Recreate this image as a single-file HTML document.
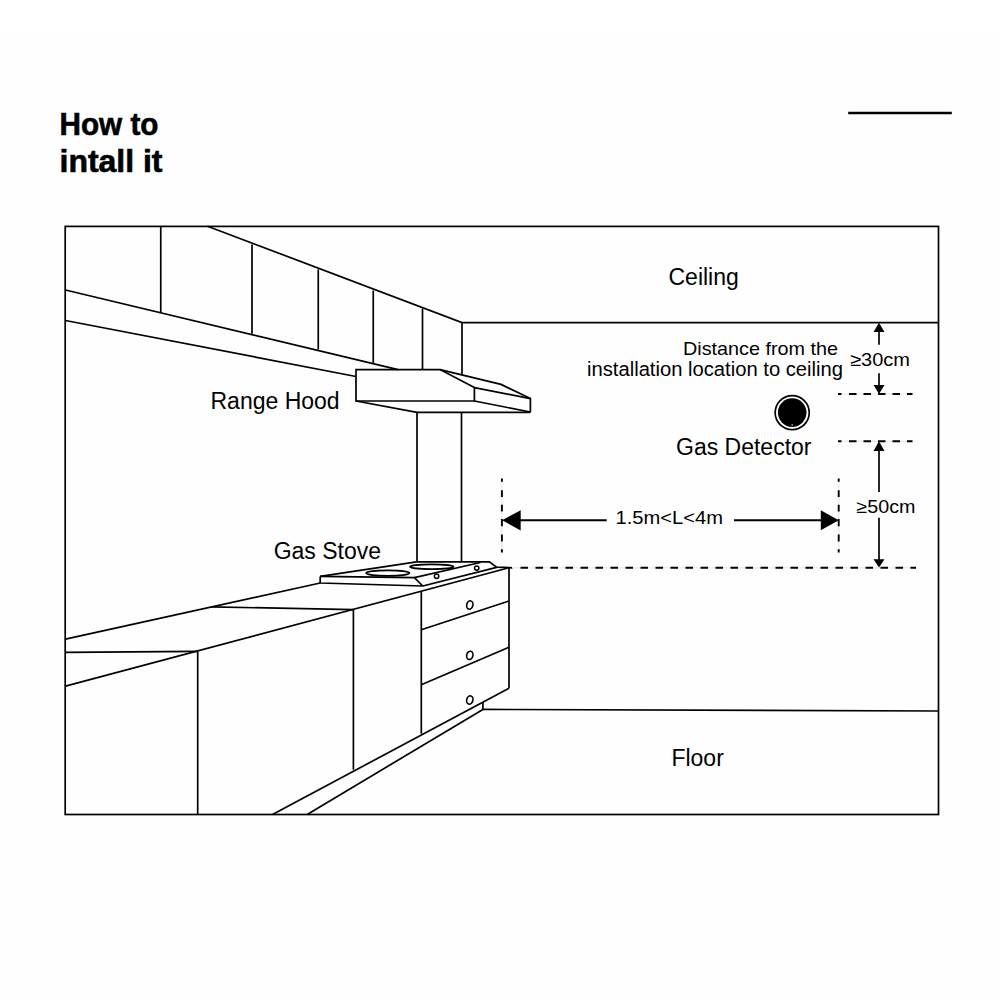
<!DOCTYPE html>
<html>
<head>
<meta charset="utf-8">
<style>
html,body{margin:0;padding:0;}
body{width:1000px;height:1000px;overflow:hidden;background:#fefefe;position:relative;font-family:"Liberation Sans",sans-serif;}
.topband{position:absolute;left:0;top:0;width:1000px;height:36px;background:#ffffff;}
svg{position:absolute;left:0;top:0;}
</style>
</head>
<body>
<div class="topband"></div>
<svg width="1000" height="1000" viewBox="0 0 1000 1000">
<g fill="none" stroke="#000" stroke-width="1.7" stroke-linejoin="miter" stroke-linecap="butt">
  <!-- title line -->
  <line x1="848.2" y1="113" x2="951.8" y2="113" stroke-width="2.6"/>
  <!-- room box -->
  <rect x="65.2" y="226.4" width="873.3" height="588.1"/>
  <!-- upper cabinets -->
  <path d="M160.75,226.2 V312"/>
  <path d="M207.5,226.2 L462,322.6 H938.5"/>
  <path d="M252,244.5 V333.7"/>
  <path d="M318.25,269.5 V349.5"/>
  <path d="M373.25,290.5 V363"/>
  <path d="M422.5,308.75 V369.6"/>
  <path d="M462,322.6 V375"/>
  <path d="M65.5,290 L398,369.6"/>
  <path d="M65.5,320.5 L356,376.5"/>
  <!-- hood -->
  <path d="M356,369.6 H440 L474.4,387.6 V401 H356 Z"/>
  <path d="M440,369.6 L501,384.4 L530.4,398.6 V412"/>
  <path d="M474.4,387.6 L530.4,398.6"/>
  <path d="M474.4,401 L530.4,412"/>
  <path d="M356,401 L417,412.4 H530.4"/>
  <!-- duct -->
  <path d="M417,412.4 V561.8"/>
  <path d="M461.5,412.4 V561.8"/>
  <!-- stove -->
  <path d="M320.2,576.4 L416.5,561.8 H489.4 L496.6,567.2 L512.8,567.8"/>
  <path d="M320.2,576.4 L414.4,577.6 L422.8,586"/>
  <path d="M320.2,576.4 V583 L422.8,586"/>
  <path d="M414.4,577.6 L480.4,562.5"/>
  <path d="M422.8,586 L496.6,567.4"/>
  <ellipse cx="387.8" cy="573.1" rx="21.6" ry="2.8" stroke-width="1.8"/>
  <ellipse cx="431.8" cy="566.7" rx="21.7" ry="2.4" stroke-width="1.8"/>
  <circle cx="436.6" cy="576.2" r="2.2" stroke-width="1.5"/>
  <circle cx="476.7" cy="568.1" r="2.2" stroke-width="1.5"/>
  <!-- counter -->
  <path d="M65.5,639.1 L320.2,583"/>
  <path d="M210.6,606.9 L353.4,609.6"/>
  <path d="M65.5,652.3 L197.7,651.3"/>
  <path d="M65.5,686.1 L509,567.8"/>
  <path d="M197.7,651.3 V814.5"/>
  <path d="M353.4,609.6 V769.7"/>
  <path d="M421.3,591.5 V733.7"/>
  <path d="M509,568 V688.2"/>
  <path d="M421.3,629.8 L509,601"/>
  <path d="M421.3,684.7 L509,647.3"/>
  <path d="M272.5,814.5 L509,688.2"/>
  <path d="M307.2,814.5 L482.9,709.4 V702"/>
  <path d="M482.9,709.4 L938.5,711"/>
  <ellipse cx="469.8" cy="605" rx="3.1" ry="4.2" stroke-width="1.6" transform="rotate(14 469.8 605)"/>
  <ellipse cx="469.8" cy="655.4" rx="3.1" ry="4.2" stroke-width="1.6" transform="rotate(14 469.8 655.4)"/>
  <ellipse cx="469.8" cy="700" rx="3.1" ry="4.2" stroke-width="1.6" transform="rotate(14 469.8 700)"/>
  <!-- dashed lines -->
    <path d="M512,567.8 H916" stroke="#ececec" stroke-width="1.6"/>
  <path d="M520.5,567.8 H916" stroke-dasharray="7.5 7.5" stroke-width="2"/>
  <path d="M838,394 H912.5" stroke="#ececec" stroke-width="1.6"/>
  <path d="M838,394 H912.5" stroke-dasharray="3.5 7.5 7.5 7 7.5 7 7.5 7 7.5 7 7.5 7" stroke-width="2"/>
  <path d="M838,441.2 H912.5" stroke="#ececec" stroke-width="1.6"/>
  <path d="M838,441.2 H912.5" stroke-dasharray="3.5 7.5 7.5 7 7.5 7 7.5 7 7.5 7 7.5 7" stroke-width="2"/>
  <path d="M501.9,478.6 V552.4" stroke="#ececec" stroke-width="1.6"/>
  <path d="M501.9,478.6 V560" stroke-dasharray="3.1 8.6 6.7 7.7 6.7 7.6 7.3 8.1 7.2 7.6 3.2 100" stroke-width="1.9"/>
  <path d="M838.7,478.6 V552.4" stroke="#ececec" stroke-width="1.6"/>
  <path d="M838.7,478.6 V560" stroke-dasharray="3.1 8.6 6.7 7.7 6.7 7.6 7.3 8.1 7.2 7.6 3.2 100" stroke-width="1.9"/>
  <!-- dimension arrows -->
  <path d="M520,520.3 H606.7" stroke-width="2"/>
  <path d="M734,520.3 H821" stroke-width="2"/>
  <path d="M879,331 V344.8" stroke-width="1.7"/>
  <path d="M879,373.3 V386" stroke-width="1.7"/>
  <path d="M879,450 V492.1" stroke-width="1.7"/>
  <path d="M879,517.7 V560" stroke-width="1.7"/>
</g>
<g fill="#000" stroke="none">
  <polygon points="502,520.3 520.7,510.2 520.7,530.4"/>
  <polygon points="838.7,520.3 820.8,510.3 820.8,530.3"/>
  <polygon points="879,322.7 873.5,332 884.5,332"/>
  <polygon points="879,394 873.5,385 884.5,385"/>
  <polygon points="879,441.2 873.5,451 884.5,451"/>
  <polygon points="879,567.6 873.5,559.3 884.5,559.3"/>
  <!-- detector -->
  <circle cx="792.2" cy="412.6" r="17.9"/>
  <circle cx="792.2" cy="412.6" r="16.2" fill="#fff"/>
  <circle cx="792.2" cy="412.6" r="14.3"/>
  <rect x="791.4" y="424.2" width="1.6" height="1.6" fill="#999"/>
</g>
<g font-family="Liberation Sans, sans-serif" fill="#000">
  <text x="668.5" y="284.5" font-size="23">Ceiling</text>
  <text x="210.5" y="408.6" font-size="23">Range Hood</text>
  <text x="273.7" y="558.7" font-size="23">Gas Stove</text>
  <text x="676" y="455.3" font-size="23">Gas Detector</text>
  <text x="671.4" y="765.6" font-size="23">Floor</text>
  <text x="683" y="354.7" font-size="19" textLength="155" lengthAdjust="spacingAndGlyphs">Distance from the</text>
  <text x="587" y="375.6" font-size="19.5" textLength="256" lengthAdjust="spacingAndGlyphs">installation location to ceiling</text>
  <text x="850" y="366.4" font-size="18.3" textLength="60" lengthAdjust="spacingAndGlyphs">≥30cm</text>
  <text x="615.5" y="524" font-size="18.3" textLength="107.5" lengthAdjust="spacingAndGlyphs">1.5m&lt;L&lt;4m</text>
  <text x="856.5" y="513.4" font-size="18" textLength="59" lengthAdjust="spacingAndGlyphs">≥50cm</text>
  <text x="59.5" y="134.5" font-size="31" font-weight="bold" stroke="#000" stroke-width="0.6" textLength="99" lengthAdjust="spacingAndGlyphs">How to</text>
  <text x="59.5" y="171.5" font-size="31" font-weight="bold" stroke="#000" stroke-width="0.6" textLength="103" lengthAdjust="spacingAndGlyphs">intall it</text>
</g>
</svg>
</body>
</html>
